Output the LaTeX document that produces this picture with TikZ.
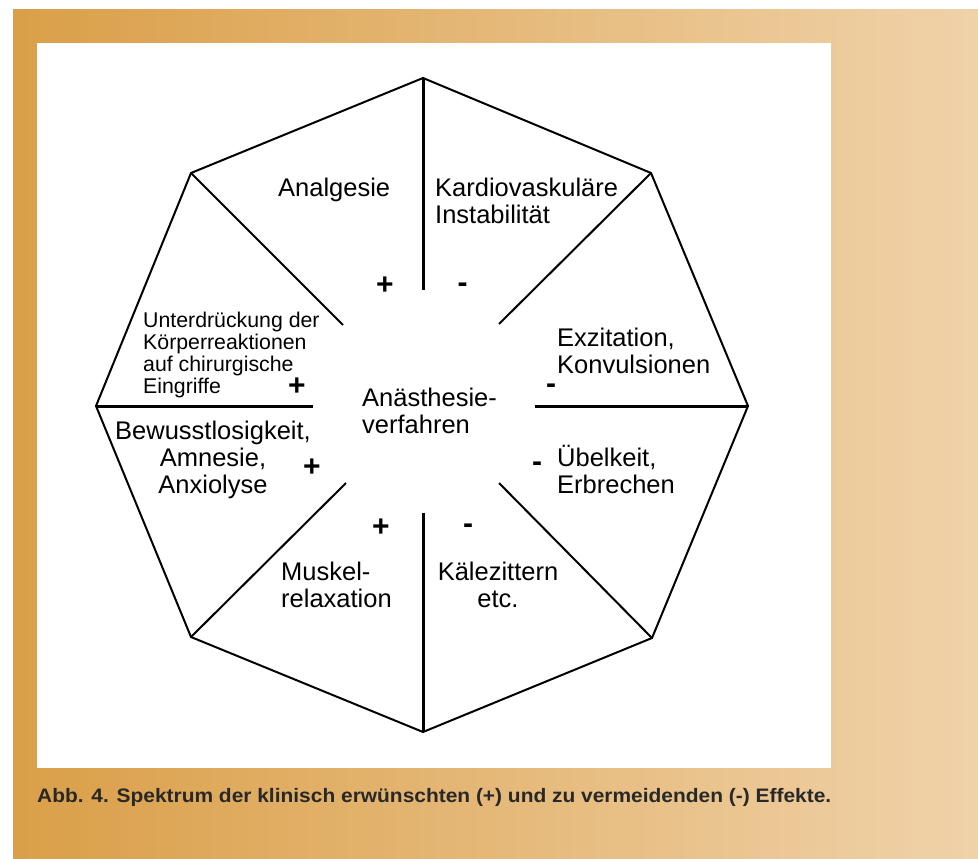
\documentclass[tikz,border=0pt]{standalone}
\usepackage{fontspec}
\setmainfont{Liberation Sans}
\usepackage{graphicx}
\definecolor{bgleft}{RGB}{218,159,72}
\definecolor{bgright}{RGB}{240,210,169}
\definecolor{captxt}{RGB}{40,40,40}
\begin{document}
\begin{tikzpicture}[x=1pt,y=-1pt,
  edge/.style={line width=2pt,line join=miter},
  spokeH/.style={line width=3pt},
  spokeD/.style={line width=2pt},
  lbl/.style={inner sep=0pt,font=\fontsize{25.5}{27}\selectfont},
  small/.style={inner sep=0pt,font=\fontsize{21.3}{22}\selectfont},
  pm/.style={inner sep=0pt,anchor=base,font=\bfseries\fontsize{30}{30}\selectfont}]
\useasboundingbox (0,0) rectangle (978,859);
\fill[white] (0,0) rectangle (978,859);
\shade[left color=bgleft,right color=bgright] (13,10) rectangle (978,859);
\fill[white] (37,43) rectangle (831,768);
% vertices
\coordinate (T) at (423,78);
\coordinate (TR) at (651,173);
\coordinate (R) at (748,406);
\coordinate (BR) at (652,638);
\coordinate (B) at (423,732);
\coordinate (BL) at (191,637);
\coordinate (L) at (96,406);
\coordinate (TL) at (191,173);
% inner spoke ends
\coordinate (iT) at (423,290);
\coordinate (iTR) at (499,324);
\coordinate (iR) at (535,406);
\coordinate (iBR) at (499,483);
\coordinate (iB) at (423,513);
\coordinate (iBL) at (346,483);
\coordinate (iL) at (313,406);
\coordinate (iTL) at (343,325);
\draw[edge] (T) -- (TR) -- (R) -- (BR) -- (B) -- (BL) -- (L) -- (TL) -- cycle;
\draw[spokeH] (T) -- (iT);
\draw[spokeH] (R) -- (iR);
\draw[spokeH] (B) -- (iB);
\draw[spokeH] (L) -- (iL);
\draw[spokeD] (TR) -- (iTR);
\draw[spokeD] (BR) -- (iBR);
\draw[spokeD] (BL) -- (iBL);
\draw[spokeD] (TL) -- (iTL);
% labels (base anchor = baseline of the last line)
\node[lbl,anchor=base west] (analg) at (278,196) {Analgesie};
\node[lbl,anchor=base west,align=left] (kardio) at (435,223) {Kardiovaskuläre\\Instabilität};
\node[lbl,anchor=base west,align=left] (exz) at (557,373) {Exzitation,\\Konvulsionen};
\node[lbl,anchor=base west,align=left] (uebel) at (557,493) {Übelkeit,\\Erbrechen};
\node[lbl,anchor=base,align=center] (kaele) at (498,607) {Kälezittern\\etc.};
\node[lbl,anchor=base west,align=left] (muskel) at (281,607) {Muskel-\\relaxation};
\node[lbl,anchor=base,align=center] (bewusst) at (213,493) {Bewusstlosigkeit,\\Amnesie,\\Anxiolyse};
\node[small,anchor=base west,align=left] (unterdr) at (143,393) {Unterdrückung der\\Körperreaktionen\\auf chirurgische\\Eingriffe};
\node[lbl,anchor=base west,align=left] (center) at (362,433) {Anästhesie-\\verfahren};
% plus / minus marks
\node[pm] (p1) at (385,294.5) {+};
\node[pm] (m1) at (462.5,292.7) {-};
\node[pm] (m2) at (551,393.7) {-};
\node[pm] (p2) at (297,395.5) {+};
\node[pm] (p3) at (312,476.5) {+};
\node[pm] (m3) at (537,471.7) {-};
\node[pm] (p4) at (381,536.5) {+};
\node[pm] (m4) at (468,533.7) {-};
% caption
\node[inner sep=0pt,anchor=base west,text=captxt,font=\bfseries\fontsize{19.5}{22}\selectfont] (cap) at (37,802)
  {\resizebox{794pt}{\height}{Abb. 4. Spektrum der klinisch erwünschten (+) und zu vermeidenden (-) Effekte.}};
\end{tikzpicture}
\end{document}
